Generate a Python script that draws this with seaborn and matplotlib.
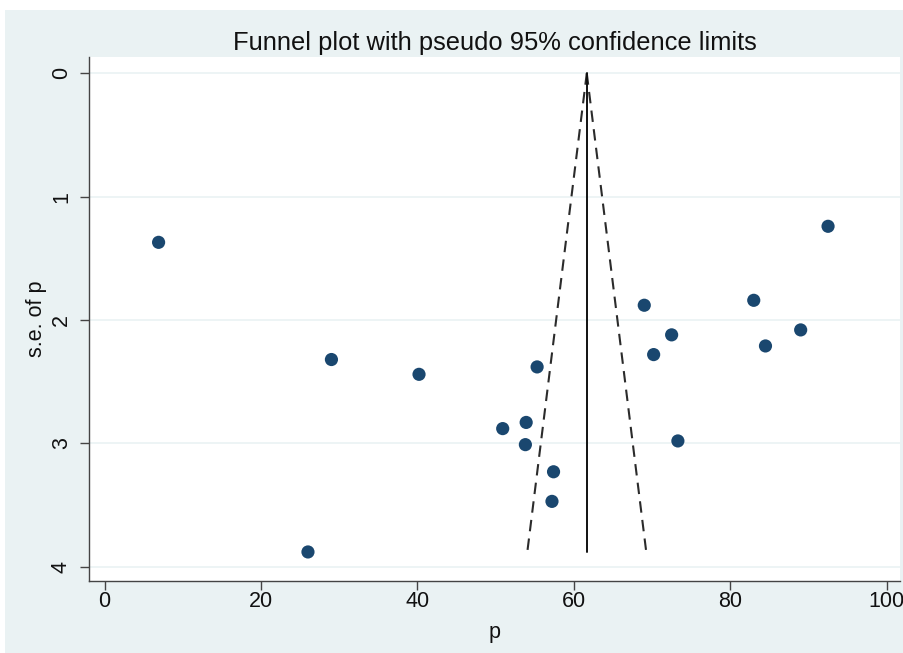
import matplotlib
matplotlib.use("Agg")
import matplotlib.pyplot as plt
import seaborn as sns
import numpy as np
import pandas as pd
from matplotlib.patches import Rectangle

# ---- data ----
p_values = [6.9, 29.0, 40.2, 26.0, 55.3, 53.9, 50.9, 53.8, 57.4, 57.2,
            92.5, 69.0, 83.0, 72.5, 89.0, 70.2, 84.5, 73.3]
se_values = [1.37, 2.32, 2.44, 3.88, 2.38, 2.83, 2.88, 3.01, 3.23, 3.47,
             1.24, 1.88, 1.84, 2.12, 2.08, 2.28, 2.21, 2.98]
pooled_p = 61.65
z95 = 1.96
x_ticks = [0, 20, 40, 60, 80, 100]
y_ticks = [0, 1, 2, 3, 4]
title = "Funnel plot with pseudo 95% confidence limits"
x_label = "p"
y_label = "s.e. of p"

df = pd.DataFrame({"p": p_values, "se": se_values})
se_max = max(se_values)
left_lim = pd.DataFrame({"se": [0.0, se_max], "x": [pooled_p, pooled_p - z95 * se_max]})
right_lim = pd.DataFrame({"se": [0.0, se_max], "x": [pooled_p, pooled_p + z95 * se_max]})
center = pd.DataFrame({"se": [0.0, se_max], "x": [pooled_p, pooled_p]})

sns.set_theme(style="white")
plt.rcParams["font.family"] = ["Liberation Sans", "DejaVu Sans"]
fs_title, fs_tick, fs_lab = 18.4, 15.5, 15.5

BG = "#eaf2f3"
W, H = 904, 653
fig = plt.figure(figsize=(W / 100, H / 100), dpi=100, facecolor="white")
fig.patches.append(Rectangle((5 / W, 0), 1, 1 - 10 / H, transform=fig.transFigure,
                             facecolor=BG, edgecolor="none", zorder=-10))

L, R, T, B = 89.3, 900, 57.3, 580.7
ax = fig.add_axes([L / W, 1 - B / H, (R - L) / W, (B - T) / H])
ax.set_zorder(5)
ax.set_facecolor("white")

sns.lineplot(data=left_lim, x="x", y="se", sort=False, estimator=None, ax=ax,
             color="#2b2b2b", linewidth=1.5, linestyle=(0, (5.5, 3.5)))
sns.lineplot(data=right_lim, x="x", y="se", sort=False, estimator=None, ax=ax,
             color="#2b2b2b", linewidth=1.5, linestyle=(0, (5.5, 3.5)))
sns.lineplot(data=center, x="x", y="se", sort=False, estimator=None, ax=ax,
             color="#111111", linewidth=1.4)
sns.scatterplot(data=df, x="p", y="se", ax=ax, color="#1a476f", s=90,
                edgecolor="none", zorder=5)

ax.set_xlim(-1.96, 101.7)
ax.set_ylim(4.113, -0.13)
ax.set_xticks(x_ticks)
ax.set_yticks(y_ticks)
ax.set_xticklabels([str(v) for v in x_ticks])
ax.set_yticklabels([str(v) for v in y_ticks], rotation=90, va="center")

for y in y_ticks:
    ax.axhline(y, color=BG, linewidth=1.2, zorder=0.5)

for s in ["top", "right"]:
    ax.spines[s].set_visible(False)
for s in ["left", "bottom"]:
    ax.spines[s].set_color("#444444")
    ax.spines[s].set_linewidth(1.0)

ax.tick_params(axis="both", direction="out", length=6.5, width=1.0,
               color="#444444", labelsize=fs_tick, labelcolor="#111111",
               bottom=True, left=True, top=False, right=False)
ax.tick_params(axis="y", pad=6)
ax.tick_params(axis="x", pad=1)

ax.set_xlabel(x_label, fontsize=fs_lab, color="#111111")
ax.set_ylabel(y_label, fontsize=fs_lab, color="#111111")
ax.xaxis.set_label_coords(0.5, -0.078)
ax.yaxis.set_label_coords(-0.052, 0.5)
ax.set_title(title, fontsize=fs_title, color="#111111", pad=5)

fig.savefig("out.png", dpi=100, facecolor=fig.get_facecolor())
